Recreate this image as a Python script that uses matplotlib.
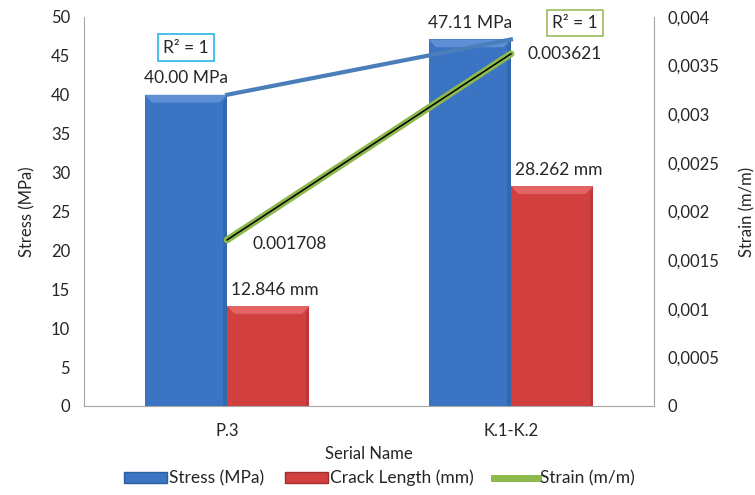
import numpy as np
import matplotlib
matplotlib.use("Agg")
from matplotlib import pyplot as plt
from matplotlib.patches import Patch, Polygon
from matplotlib.lines import Line2D
from matplotlib.ticker import FuncFormatter, MultipleLocator

plt.rcParams['font.family'] = ['Lato', 'DejaVu Sans']

# chart data
series_names = ["P.3", "K.1-K.2"]
stress = [40.00, 47.11]          # MPa
crack_length = [12.846, 28.262]  # mm
strain = [0.001708, 0.003621]    # m/m

blue = "#3b74c2"
red = "#d23f3f"
trend_blue = "#4a7ebb"
green = "#8db94b"
grey = "#a6a6a6"
txt = "#262626"
fs = 12
lfs = 12.5


def bevel(ax, bars, light):
    # lighter top edge to give the bars a raised look
    for b in bars:
        x0, y0 = b.get_x(), b.get_y()
        w, h = b.get_width(), b.get_height()
        dx = w * 0.09
        dy = 1.0
        top = y0 + h
        poly = Polygon([(x0, top), (x0 + w, top), (x0 + w - dx, top - dy), (x0 + dx, top - dy)],
                       closed=True, facecolor=light, edgecolor="none", zorder=3)
        ax.add_patch(poly)
        side = Polygon([(x0 + w, top), (x0 + w, y0), (x0 + w - dx * 0.5, y0), (x0 + w - dx * 0.5, top - dy)],
                       closed=True, facecolor="black", alpha=0.10, edgecolor="none", zorder=3)
        ax.add_patch(side)


fig = plt.figure(figsize=(7.55, 4.95), dpi=100)
ax = fig.add_axes([0.1113, 0.1798, 0.7549, 0.7859])
x = np.arange(len(series_names))
w = 0.29

b1 = ax.bar(x - w / 2, stress, w, color=blue, zorder=2)
b2 = ax.bar(x + w / 2, crack_length, w, color=red, zorder=2)
bevel(ax, b1, "#5f90d6")
bevel(ax, b2, "#e26464")

# linear trend of stress
ax.plot(x, stress, color=trend_blue, lw=3, zorder=4)

ax.set_xlim(-0.504, 1.504)
ax.set_ylim(0, 50)
ax.yaxis.set_major_locator(MultipleLocator(5))
ax.set_xticks(x)
ax.set_xticklabels(series_names)
ax.tick_params(length=0, labelsize=fs, colors=txt, pad=12)
ax.tick_params(axis="y", pad=10)
ax.spines["top"].set_visible(False)
for s in ["left", "bottom", "right"]:
    ax.spines[s].set_color(grey)
ax.set_ylabel("Stress (MPa)", fontsize=fs, color=txt, labelpad=11)
ax.set_xlabel("Serial Name", fontsize=fs, color=txt, labelpad=5)

for i in range(len(x)):
    ax.annotate(f"{stress[i]:.2f} MPa", (x[i] - w / 2, stress[i]), xytext=(0, 6),
                textcoords="offset points", ha="center", va="bottom", fontsize=lfs, color=txt)
    ax.annotate(f"{crack_length[i]:.3f} mm", (x[i] + w / 2, crack_length[i]), xytext=(5, 6),
                textcoords="offset points", ha="center", va="bottom", fontsize=lfs, color=txt)

ax.annotate("R² = 1", (x[0] - w / 2, stress[0]), xytext=(0, 34), textcoords="offset points",
            ha="center", va="center", fontsize=lfs, color=txt,
            bbox=dict(boxstyle="square,pad=0.3", fc="white", ec="#29b6e8", lw=1.2))

ax2 = ax.twinx()
ax2.set_ylim(0, 0.004)
ax2.yaxis.set_major_locator(MultipleLocator(0.0005))
ax2.yaxis.set_major_formatter(FuncFormatter(lambda v, p: "0" if v == 0 else f"{v:g}".replace(".", ",")))
ax2.tick_params(length=0, labelsize=fs, colors=txt, pad=10)
for s in ax2.spines.values():
    s.set_visible(False)
ax2.plot(x, strain, color=green, lw=5, solid_capstyle="round", zorder=3)
ax2.plot(x, strain, color="black", lw=1.1, zorder=4)
ax2.set_ylabel("Strain (m/m)", fontsize=fs, color=txt, labelpad=14)

ax2.annotate(f"{strain[0]:.6f}", (x[0], strain[0]), xytext=(45, -3), textcoords="offset points",
             ha="center", va="center", fontsize=lfs, color=txt)
ax2.annotate(f"{strain[1]:.6f}", (x[1], strain[1]), xytext=(39, 0), textcoords="offset points",
             ha="center", va="center", fontsize=lfs, color=txt)
ax2.annotate("R² = 1", (x[1], strain[1]), xytext=(46, 22), textcoords="offset points",
             ha="center", va="center", fontsize=lfs, color=txt,
             bbox=dict(boxstyle="square,pad=0.3", fc="white", ec="#9bbb59", lw=1.2))

handles = [Patch(facecolor=blue, edgecolor="#2c5d9e"),
           Patch(facecolor=red, edgecolor="#a12f2f"),
           Line2D([0], [0], color=green, lw=5)]
labels = ["Stress (MPa)", "Crack Length (mm)", "Strain (m/m)"]
fig.legend(handles, labels, loc="center", bbox_to_anchor=(0.502, 0.034), ncol=3, frameon=False,
           fontsize=lfs, handlelength=2.5, handleheight=0.6, handletextpad=0.1, columnspacing=1.2,
           labelcolor=txt)

fig.savefig("out.png", dpi=100)
